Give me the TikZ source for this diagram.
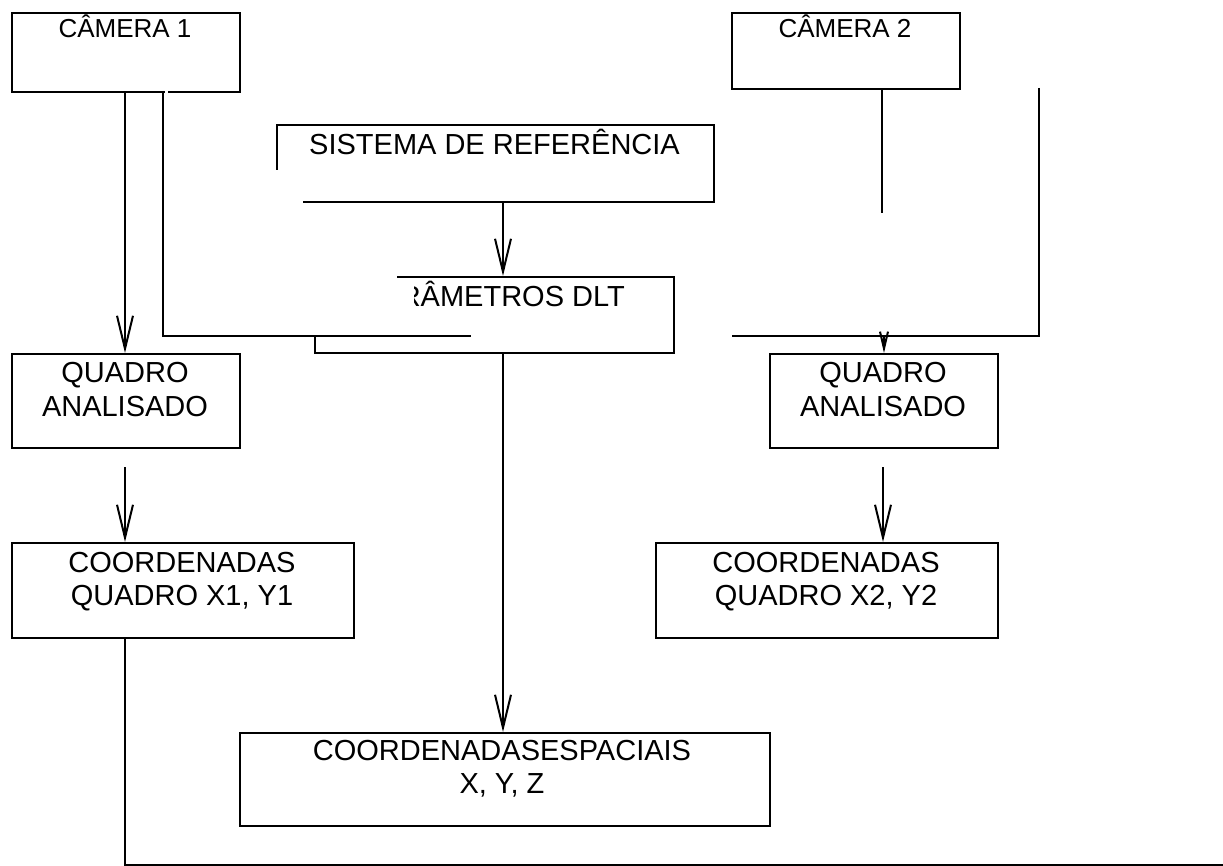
\documentclass[tikz,border=0pt]{standalone}
\usepackage{fontspec}
\setmainfont{Liberation Sans}
\usetikzlibrary{arrows.meta}
\tikzset{
  box/.style={draw, line width=2pt, inner sep=0pt, anchor=north west},
  lbl/.style={font=\fontsize{29}{34}\selectfont, inner sep=0pt, anchor=base},
  camlbl/.style={font=\fontsize{26}{30}\selectfont, inner sep=0pt, anchor=base},
  conn/.style={line width=2pt},
  arr/.style={conn, -{Straight Barb[length=33pt, width=16pt, line width=2pt]}},
  shortarr/.style={conn, -{Straight Barb[length=17pt, width=8pt, line width=2pt]}},
  mask/.style={fill=white, draw=none}
}
\begin{document}
\begin{tikzpicture}[x=1pt, y=-1pt]
\useasboundingbox (0,0) rectangle (1223,866);
% boxes
\node[box, minimum width=228pt, minimum height=79pt] (cam1) at (11,12) {};
\node[box, minimum width=228pt, minimum height=76pt] (cam2) at (731,12) {};
\node[box, minimum width=437pt, minimum height=77pt] (sis) at (276,124) {};
\node[box, minimum width=359pt, minimum height=76pt] (dlt) at (314,276) {};
\node[box, minimum width=228pt, minimum height=94pt] (qa1) at (11,353) {};
\node[box, minimum width=228pt, minimum height=94pt] (qa2) at (769,353) {};
\node[box, minimum width=342pt, minimum height=95pt] (cq1) at (11,542) {};
\node[box, minimum width=342pt, minimum height=95pt] (cq2) at (655,542) {};
\node[box, minimum width=530pt, minimum height=93pt] (ce) at (239,732) {};
% gaps in the drawing
\fill[mask] (164.5,88) rectangle (168,94);
\fill[mask] (268,170) rectangle (303,206);
\fill[mask] (305,268) rectangle (397,334.6);
% texts
\node[camlbl] (cam1t) at (125,38) {CÂMERA 1};
\node[camlbl] (cam2t) at (845,38) {CÂMERA 2};
\node[lbl] (sist) at (494.5,155) {SISTEMA DE REFERÊNCIA};
\begin{scope}
\clip (414,260) rectangle (680,340);
\node[lbl] (dltt) at (494,307) {PARÂMETROS DLT};
\end{scope}
\node[lbl] (qa1a) at (125,382) {QUADRO};
\node[lbl] (qa1b) at (125,416) {ANALISADO};
\node[lbl] (qa2a) at (883,382) {QUADRO};
\node[lbl] (qa2b) at (883,416) {ANALISADO};
\node[lbl] (cq1a) at (182,572) {COORDENADAS};
\node[lbl] (cq1b) at (182,605) {QUADRO X1, Y1};
\node[lbl] (cq2a) at (826,572) {COORDENADAS};
\node[lbl] (cq2b) at (826,605) {QUADRO X2, Y2};
\node[lbl] (cea) at (502,760) {COORDENADASESPACIAIS};
\node[lbl] (ceb) at (502,793) {X, Y, Z};
% coordinates for connector ends
\coordinate (c1x) at (125,0);
\coordinate (k1) at (163,91);
\coordinate (k2) at (471,336);
\coordinate (sd) at (503,0);
\coordinate (k3) at (882,213);
\coordinate (k4) at (1039,88);
\coordinate (k5) at (732,336);
\coordinate (a1) at (125,467);
\coordinate (a2) at (883,467);
\coordinate (e1) at (1223,864.5);
% connectors
\draw[arr] (cam1.south -| c1x) -- (qa1.north -| c1x);
\draw[conn] (k1) |- (k2);
\draw[arr] (sis.south -| sd) -- (dlt.north -| sd);
\draw[arr] (dlt.south -| sd) -- (ce.north -| sd);
\draw[conn] (cam2.south -| k3) -- (k3);
\draw[conn] (k4) |- (k5);
\draw[shortarr] (qa2.north |- k5) -- (qa2.north);
\draw[arr] (a1) -- (cq1.north -| a1);
\draw[arr] (a2) -- (cq2.north -| a2);
\draw[conn] (cq1.south -| a1) |- (e1);
\end{tikzpicture}
\end{document}
